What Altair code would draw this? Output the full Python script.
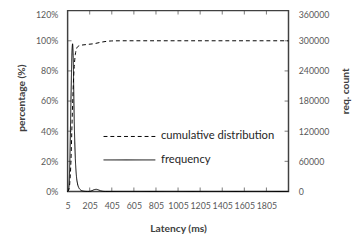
import altair as alt
import pandas as pd

# ---- data ----
series_names = ["cumulative distribution", "frequency"]

freq_latency = [5, 15, 25, 35, 45, 50, 55, 65, 75, 85, 95, 105, 115, 125, 145, 165, 185,
                205, 225, 245, 265, 285, 305, 325, 345, 2005]
freq_count = [0, 5000, 60000, 180000, 280000, 294000, 270000, 140000, 65000, 30000, 15000,
              8000, 4500, 2500, 800, 200, 0, 100, 1500, 3500, 4200, 3000, 1200, 300, 0, 0]

cum_latency = [5, 15, 25, 35, 45, 55, 65, 75, 85, 95, 125, 175, 255, 305, 355, 405, 505, 2005]
cum_fraction = [0, 0.01, 0.06, 0.2, 0.45, 0.68, 0.83, 0.91, 0.945, 0.96, 0.97, 0.975,
                0.982, 0.99, 0.996, 0.999, 1.0, 1.0]

x_tick_values = [5, 205, 405, 605, 805, 1005, 1205, 1405, 1605, 1805]
left_tick_values = [0, 0.2, 0.4, 0.6, 0.8, 1.0, 1.2]
right_tick_values = [0, 60000, 120000, 180000, 240000, 300000, 360000]

cum_df = pd.DataFrame({"latency": cum_latency, "value": cum_fraction, "series": series_names[0]})
freq_df = pd.DataFrame({"latency": freq_latency, "count": freq_count, "series": series_names[1]})
xtick_df = pd.DataFrame({"latency": x_tick_values[1:]})
ytick_df = pd.DataFrame({"value": left_tick_values[1:-1]})

W, H = 226, 185
FONT = "Lato"
LABEL_COLOR = "#595959"
FRAME = "#404040"

x_scale = alt.Scale(domain=[5, 2005], nice=False, zero=False)
x_axis = alt.Axis(values=x_tick_values, format="d", tickSize=0, domain=False, grid=False,
                  labelPadding=10, labelFlush=False, labelOverlap=False,
                  title="Latency (ms)", titleX=113, titleY=38, titleBaseline="middle")
y_left_scale = alt.Scale(domain=[0, 1.2], nice=False)

top_left_baseline = {"condition": {"test": "datum.value >= 1.19", "value": "top"}, "value": "middle"}
top_right_baseline = {"condition": {"test": "datum.value >= 359000", "value": "top"}, "value": "middle"}

y_left_axis = alt.Axis(values=left_tick_values, format=".0%", tickSize=0, domain=False,
                       grid=False, labelPadding=10, labelOverlap=False, labelFlush=False,
                       labelBaseline=top_left_baseline, title="percentage (%)",
                       titleAngle=270, titleX=-47, titleY=89, titleBaseline="middle")

dash = alt.StrokeDash(
    "series:N",
    scale=alt.Scale(domain=series_names, range=[[4, 3], [1, 0]]),
    legend=alt.Legend(title=None, orient="none", legendX=57.5, legendY=123,
                      symbolType="M-5.3,0H5.3", symbolSize=100, symbolStrokeWidth=1,
                      symbolStrokeColor="black", symbolFillColor="transparent",
                      labelFont=FONT, labelFontSize=11.5,
                      labelColor="#262626", labelOffset=26.5, rowPadding=11, padding=0),
)

cum = alt.Chart(cum_df).mark_line(color="black", strokeWidth=1, interpolate="monotone").encode(
    x=alt.X("latency:Q", scale=x_scale, axis=x_axis),
    y=alt.Y("value:Q", scale=y_left_scale, axis=y_left_axis),
    strokeDash=dash,
)

left_ticks = alt.Chart(ytick_df).mark_tick(orient="horizontal", size=4, thickness=1, color=FRAME).encode(
    y=alt.Y("value:Q", scale=y_left_scale, axis=y_left_axis), x=alt.value(2))
right_ticks = alt.Chart(ytick_df).mark_tick(orient="horizontal", size=4, thickness=1, color=FRAME).encode(
    y=alt.Y("value:Q", scale=y_left_scale, axis=y_left_axis), x=alt.value(W - 2))
bottom_ticks = alt.Chart(xtick_df).mark_tick(orient="vertical", size=4, thickness=1, color=FRAME).encode(
    x=alt.X("latency:Q", scale=x_scale, axis=x_axis), y=alt.value(H - 2))
top_ticks = alt.Chart(xtick_df).mark_tick(orient="vertical", size=4, thickness=1, color=FRAME).encode(
    x=alt.X("latency:Q", scale=x_scale, axis=x_axis), y=alt.value(2))

left_group = alt.layer(cum, left_ticks, right_ticks, bottom_ticks, top_ticks)

freq = alt.Chart(freq_df).mark_line(color="black", strokeWidth=1, interpolate="monotone").encode(
    x=alt.X("latency:Q", scale=x_scale, axis=x_axis),
    y=alt.Y("count:Q", scale=alt.Scale(domain=[0, 360000], nice=False),
            axis=alt.Axis(orient="right", values=right_tick_values, format="d", tickSize=0,
                          domain=False, grid=False, labelPadding=10, labelOverlap=False,
                          labelFlush=False, labelBaseline=top_right_baseline,
                          title="req. count",
                          titleAngle=270, titleX=58, titleY=82, titleBaseline="middle")),
    strokeDash=dash,
)

chart = alt.layer(left_group, freq).resolve_scale(y="independent").properties(
    width=W, height=H,
    autosize=alt.AutoSizeParams(type="none"),
    padding={"left": 61, "top": 0, "right": 66, "bottom": 48},
    background="white",
).configure_view(
    stroke=FRAME, strokeWidth=1.5
).configure_axis(
    labelFont=FONT, labelFontSize=9, labelColor=LABEL_COLOR, labelOverlap=False,
    titleFont=FONT, titleFontSize=10.5, titleFontWeight="bold", titleColor="#404040",
)

chart.save("out.html", embed_options={"renderer": "svg", "actions": False})
